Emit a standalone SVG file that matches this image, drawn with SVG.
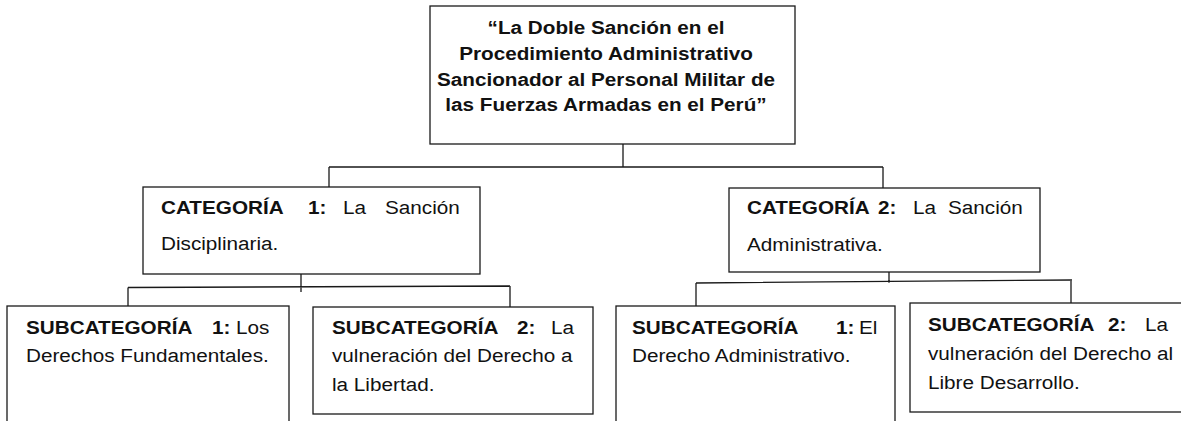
<svg xmlns="http://www.w3.org/2000/svg" width="1181" height="421" viewBox="0 0 1181 421">
<style>
.box{fill:#fff;stroke:#1a1a1a;stroke-width:1.3}
.ln{fill:none;stroke:#1a1a1a;stroke-width:1.3}
text{font-family:"Liberation Sans",Arial,sans-serif;font-size:19px;fill:#111}
.b{font-weight:bold}
.t{font-weight:bold;text-anchor:middle}
</style>
<rect width="1181" height="421" fill="#fff"/>
<g id="connectors">
<path class="ln" d="M623,144 V167 M329,167 H883 M329,167 V187 M883,167 V188"/>
<path class="ln" d="M301,266 V292 M128,287.5 L510,286 M128,287.5 V306 M510,286 V307"/>
<path class="ln" d="M889,257 V283 M696,283 L1072,280 M696,283 V306 M1071,280 V303"/>
</g>
<g id="title">
<rect class="box" x="430" y="6" width="365" height="138"/>
<text class="t" transform="translate(606,34) scale(1.09,1)">“La Doble Sanción en el</text>
<text class="t" transform="translate(606,60) scale(1.09,1)">Procedimiento Administrativo</text>
<text class="t" transform="translate(606,86) scale(1.09,1)">Sancionador al Personal Militar de</text>
<text class="t" transform="translate(606,111) scale(1.09,1)">las Fuerzas Armadas en el Perú”</text>
</g>
<g id="cat1">
<rect class="box" x="143" y="187" width="337" height="87"/>
<text transform="translate(161,214) scale(1.09,1)"><tspan class="b" x="0">CATEGORÍA</tspan><tspan class="b" x="134.9">1:</tspan><tspan x="167">La</tspan><tspan x="205.5">Sanción</tspan></text>
<text transform="translate(161,249.5) scale(1.09,1)">Disciplinaria.</text>
</g>
<g id="cat2">
<rect class="box" x="729" y="188" width="311" height="84"/>
<text transform="translate(747,214) scale(1.09,1)"><tspan class="b" x="0">CATEGORÍA</tspan><tspan class="b" x="120.2">2:</tspan><tspan x="152.3">La</tspan><tspan x="184.4">Sanción</tspan></text>
<text transform="translate(747,251) scale(1.09,1)">Administrativa.</text>
</g>
<g id="sub1a">
<rect class="box" x="7" y="306" width="282" height="130"/>
<text transform="translate(26,333.5) scale(1.09,1)"><tspan class="b" x="0">SUBCATEGORÍA</tspan><tspan class="b" x="170.6">1:</tspan><tspan x="192.7">Los</tspan></text>
<text transform="translate(26,362) scale(1.09,1)">Derechos Fundamentales.</text>
</g>
<g id="sub2a">
<rect class="box" x="313" y="307" width="280" height="107"/>
<text transform="translate(332,333.5) scale(1.09,1)"><tspan class="b" x="0">SUBCATEGORÍA</tspan><tspan class="b" x="169.7">2:</tspan><tspan x="200.9">La</tspan></text>
<text transform="translate(332,362) scale(1.09,1)">vulneración del Derecho a</text>
<text transform="translate(332,391) scale(1.09,1)">la Libertad.</text>
</g>
<g id="sub1b">
<rect class="box" x="616" y="306" width="279" height="130"/>
<text transform="translate(632,333.5) scale(1.09,1)"><tspan class="b" x="0">SUBCATEGORÍA</tspan><tspan class="b" x="187.2">1:</tspan><tspan x="208.3">El</tspan></text>
<text transform="translate(632,362) scale(1.09,1)">Derecho Administrativo.</text>
</g>
<g id="sub2b">
<rect class="box" x="910" y="303" width="280" height="109"/>
<text transform="translate(928,331) scale(1.09,1)"><tspan class="b" x="0">SUBCATEGORÍA</tspan><tspan class="b" x="165.1">2:</tspan><tspan x="199.1">La</tspan></text>
<text transform="translate(928,359.5) scale(1.09,1)">vulneración del Derecho al</text>
<text transform="translate(928,388.5) scale(1.09,1)">Libre Desarrollo.</text>
</g>
</svg>
